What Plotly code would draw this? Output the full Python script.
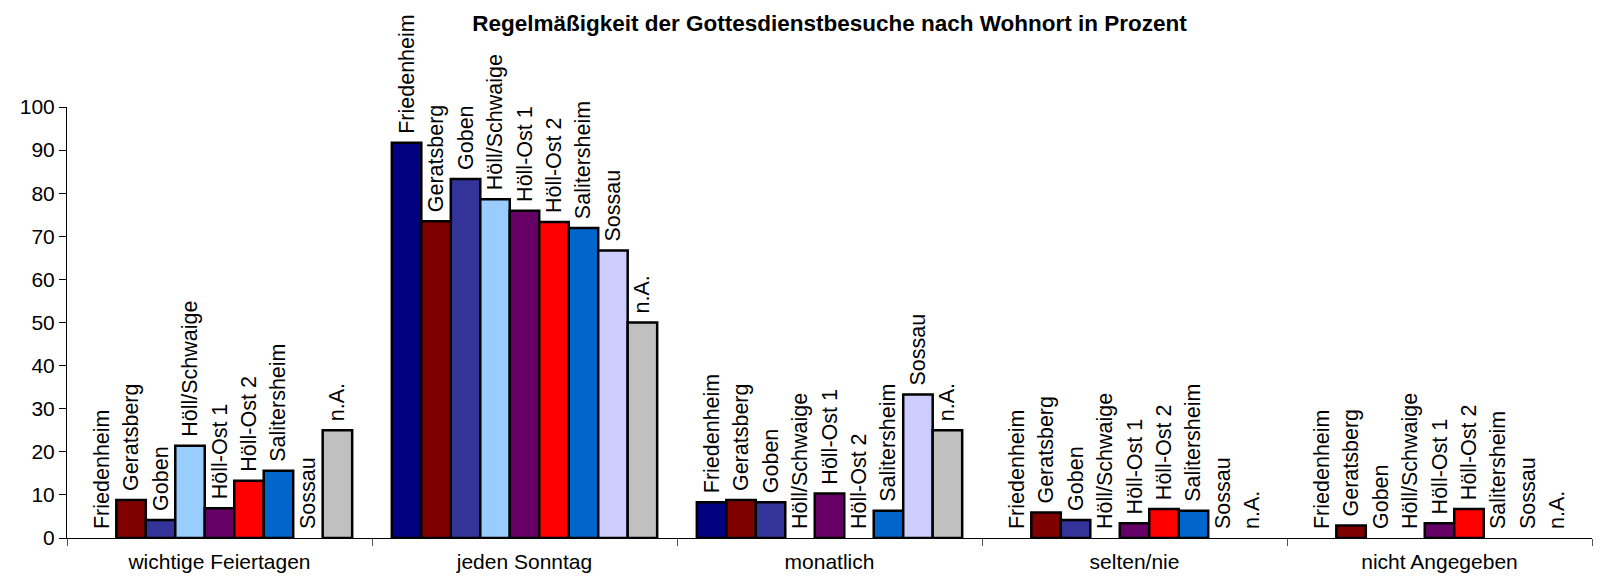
import plotly.graph_objects as go

categories = ["wichtige Feiertagen", "jeden Sonntag", "monatlich", "selten/nie", "nicht Angegeben"]

places = ["Friedenheim", "Geratsberg", "Goben", "Höll/Schwaige", "Höll-Ost 1",
          "Höll-Ost 2", "Salitersheim", "Sossau", "n.A."]

friedenheim = [0, 91.7, 8.3, 0, 0]
geratsberg = [8.8, 73.5, 8.8, 5.9, 2.9]
goben = [4.2, 83.3, 8.3, 4.2, 0]
hoell_schwaige = [21.4, 78.6, 0, 0, 0]
hoell_ost_1 = [6.9, 75.9, 10.3, 3.4, 3.4]
hoell_ost_2 = [13.3, 73.3, 0, 6.7, 6.7]
salitersheim = [15.6, 71.9, 6.3, 6.3, 0]
sossau = [0, 66.7, 33.3, 0, 0]
n_a = [25.0, 50.0, 25.0, 0, 0]

values = [friedenheim, geratsberg, goben, hoell_schwaige, hoell_ost_1,
          hoell_ost_2, salitersheim, sossau, n_a]

COLORS = ["#000080", "#800000", "#333399", "#99CCFF", "#660066",
          "#FF0000", "#0066CC", "#CCCCFF", "#C0C0C0"]

FONT = "Arial, Liberation Sans, sans-serif"

fig = go.Figure()

for name, vals, color in zip(places, values, COLORS):
    fig.add_trace(go.Bar(
        x=categories,
        y=vals,
        name=name,
        marker_color=color,
        marker_line_color="black",
        # no outline on empty bars, so the baseline stays thin
        marker_line_width=[2.5 if v else 0 for v in vals],
        text=[name] * len(vals),
        texttemplate="\u00a0%{text}",
        textposition="outside",
        textangle=-90,
        constraintext="none",
        cliponaxis=False,
        textfont=dict(family=FONT, size=21.5, color="black"),
    ))

# page body has an 8px margin, so the figure is a bit smaller than the window
fig.update_layout(
    title=dict(
        text="<b>Regelmäßigkeit der Gottesdienstbesuche nach Wohnort in Prozent</b>",
        font=dict(family=FONT, size=22.5, color="black"),
        x=0.5,
        xref="paper",
        y=0.974,
        yanchor="middle",
    ),
    barmode="group",
    bargap=0.13,
    bargroupgap=0,
    showlegend=False,
    plot_bgcolor="white",
    paper_bgcolor="white",
    width=1594,
    height=574,
    margin=dict(l=59, r=10, t=99, b=44),
    font=dict(family=FONT, size=21, color="black"),
)

fig.update_xaxes(
    showline=True,
    linecolor="black",
    linewidth=1,
    ticks="outside",
    tickson="boundaries",
    ticklen=7,
    tickcolor="#555555",
    ticklabelstandoff=5,
    showgrid=False,
    tickfont=dict(family=FONT, size=21, color="black"),
)

fig.update_yaxes(
    range=[0, 100],
    dtick=10,
    showline=True,
    linecolor="black",
    linewidth=1,
    ticks="outside",
    ticklen=7,
    tickcolor="black",
    showgrid=False,
    zeroline=False,
    tickfont=dict(family=FONT, size=21, color="black"),
)

fig.write_html("out.html")
